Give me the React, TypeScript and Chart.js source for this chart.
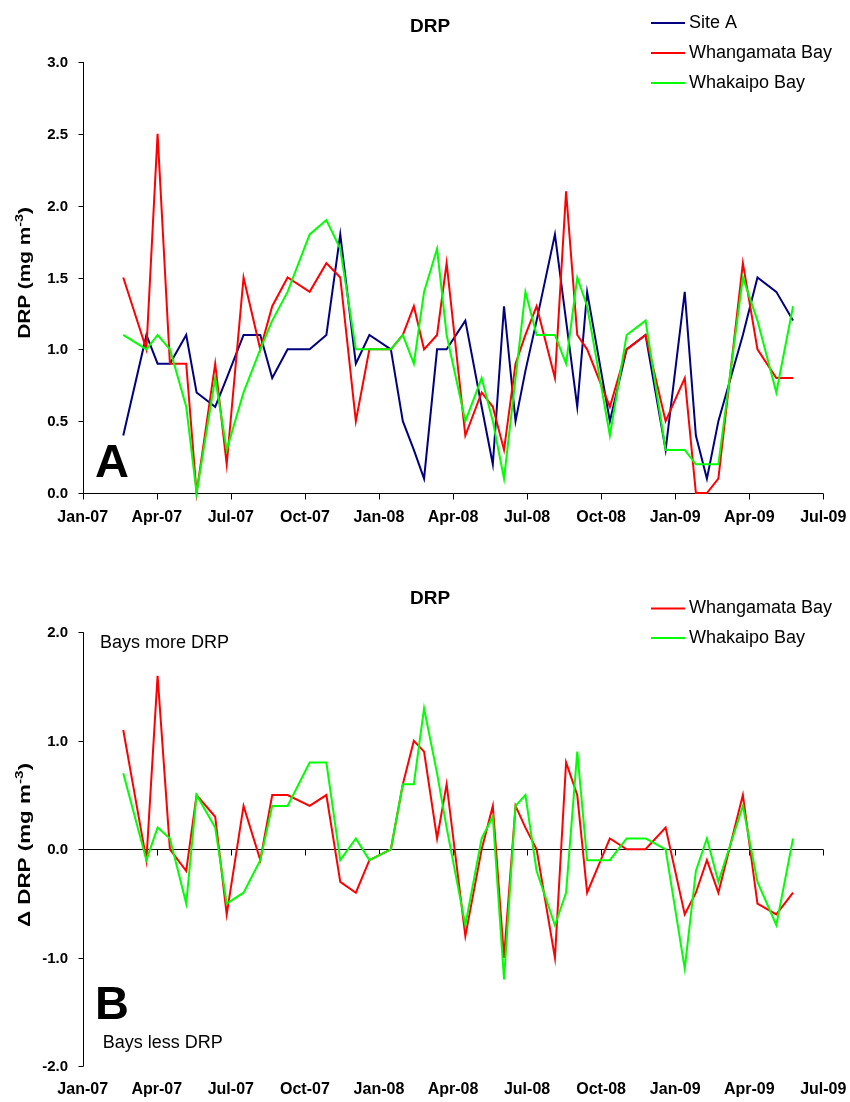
import React, { useEffect, useRef } from "react";
import { Chart, registerables } from "chart.js";

Chart.register(...registerables);

// ---------- data ----------
const sampleDates = [
  "2007-02-19", "2007-03-19", "2007-04-02", "2007-04-17", "2007-05-07", "2007-05-20",
  "2007-06-12", "2007-06-26", "2007-07-17", "2007-08-07", "2007-08-22", "2007-09-10",
  "2007-10-07", "2007-10-28", "2007-11-14", "2007-12-03", "2007-12-20", "2008-01-16",
  "2008-01-31", "2008-02-13", "2008-02-25", "2008-03-12", "2008-03-24", "2008-04-16",
  "2008-05-06", "2008-05-20", "2008-06-03", "2008-06-17", "2008-06-29", "2008-07-13",
  "2008-08-05", "2008-08-19", "2008-09-02", "2008-09-14", "2008-10-12", "2008-11-02",
  "2008-11-25", "2008-12-20", "2009-01-13", "2009-01-27", "2009-02-09", "2009-02-22",
  "2009-03-24", "2009-04-11", "2009-05-04", "2009-05-25",
];

const siteA = [
  0.4, 1.1, 0.9, 0.9, 1.1, 0.7, 0.6, 0.8, 1.1, 1.1, 0.8, 1.0, 1.0, 1.1, 1.8, 0.9,
  1.1, 1.0, 0.5, 0.3, 0.1, 1.0, 1.0, 1.2, 0.6, 0.2, 1.3, 0.5, 0.85, 1.2, 1.8, 1.2,
  0.6, 1.4, 0.5, 1.0, 1.1, 0.3, 1.4, 0.4, 0.1, 0.5, 1.1, 1.5, 1.4, 1.2,
];

const whangamata = [
  1.5, 1.0, 2.5, 0.9, 0.9, 0.0, 0.9, 0.2, 1.5, 1.0, 1.3, 1.5, 1.4, 1.6, 1.5, 0.5,
  1.0, 1.0, 1.1, 1.3, 1.0, 1.1, 1.6, 0.4, 0.7, 0.6, 0.3, 0.9, 1.1, 1.3, 0.8, 2.1,
  1.1, 1.0, 0.6, 1.0, 1.1, 0.5, 0.8, 0.0, 0.0, 0.1, 1.6, 1.0, 0.8, 0.8,
];

const whakaipo = [
  1.1, 1.0, 1.1, 1.0, 0.6, 0.0, 0.8, 0.3, 0.7, 1.0, 1.2, 1.4, 1.8, 1.9, 1.7, 1.0,
  1.0, 1.0, 1.1, 0.9, 1.4, 1.7, 1.1, 0.5, 0.8, 0.5, 0.1, 0.8, 1.4, 1.1, 1.1, 0.9,
  1.5, 1.3, 0.4, 1.1, 1.2, 0.3, 0.3, 0.2, 0.2, 0.2, 1.5, 1.2, 0.7, 1.3,
];

const diffWhangamata = [
  1.1, -0.1, 1.6, 0.0, -0.2, 0.5, 0.3, -0.6, 0.4, -0.1, 0.5, 0.5, 0.4, 0.5, -0.3, -0.4,
  -0.1, 0.0, 0.6, 1.0, 0.9, 0.1, 0.6, -0.8, 0.0, 0.4, -1.0, 0.4, 0.2, 0.0, -1.0, 0.8,
  0.5, -0.4, 0.1, 0.0, 0.0, 0.2, -0.6, -0.4, -0.1, -0.4, 0.5, -0.5, -0.6, -0.4,
];

const diffWhakaipo = [
  0.7, -0.1, 0.2, 0.1, -0.5, 0.5, 0.2, -0.5, -0.4, -0.1, 0.4, 0.4, 0.8, 0.8, -0.1, 0.1,
  -0.1, 0.0, 0.6, 0.6, 1.3, 0.7, 0.2, -0.7, 0.1, 0.3, -1.2, 0.4, 0.5, -0.2, -0.7, -0.4,
  0.9, -0.1, -0.1, 0.1, 0.1, 0.0, -1.1, -0.2, 0.1, -0.3, 0.4, -0.3, -0.7, 0.1,
];

const xTickLabels = [
  "Jan-07", "Apr-07", "Jul-07", "Oct-07", "Jan-08", "Apr-08",
  "Jul-08", "Oct-08", "Jan-09", "Apr-09", "Jul-09",
];
const xTickMonths = [0, 3, 6, 9, 12, 15, 18, 21, 24, 27, 30];
const topYTicks = [0, 0.5, 1.0, 1.5, 2.0, 2.5, 3.0];
const bottomYTicks = [-2, -1, 0, 1, 2];

const COLOR_SITE_A = "#000080";
const COLOR_WHANGAMATA = "#FF0000";
const COLOR_WHAKAIPO = "#00FF00";

const FONT = '"Liberation Sans", Arial, sans-serif';

// months since Jan 2007 (fractional)
function toMonths(d: string): number {
  const [y, m, day] = d.split("-").map(Number);
  const dim = new Date(y, m, 0).getDate();
  return (y - 2007) * 12 + (m - 1) + (day - 1) / dim;
}

function series(values: number[]) {
  return sampleDates.map((d, i) => ({ x: toMonths(d), y: values[i] }));
}

type TextOpts = {
  size: number;
  bold?: boolean;
  align?: CanvasTextAlign;
  baseline?: CanvasTextBaseline;
  sx?: number;
};

function drawText(ctx: CanvasRenderingContext2D, text: string, x: number, y: number, o: TextOpts) {
  ctx.save();
  ctx.translate(x, y);
  ctx.scale(o.sx ?? 1, 1);
  ctx.font = `${o.bold ? "bold " : ""}${o.size}px ${FONT}`;
  ctx.textAlign = o.align ?? "left";
  ctx.textBaseline = o.baseline ?? "middle";
  ctx.fillStyle = "#000";
  ctx.fillText(text, 0, 0);
  ctx.restore();
}

// rotated axis title with superscript "-3"; stretch = scale along the text direction
function drawYTitle(
  ctx: CanvasRenderingContext2D, cx: number, cy: number, prefix: string, size: number, stretch: number,
) {
  ctx.save();
  ctx.translate(cx, cy);
  ctx.rotate(-Math.PI / 2);
  ctx.scale(stretch, 1);
  const fMain = `bold ${size}px ${FONT}`;
  const fSup = `bold ${Math.round(size * 0.68)}px ${FONT}`;
  ctx.font = fMain;
  const w1 = ctx.measureText(prefix).width;
  const w3 = ctx.measureText(")").width;
  ctx.font = fSup;
  const w2 = ctx.measureText("-3").width;
  let x = -(w1 + w2 + w3) / 2;
  const base = size * 0.36;
  ctx.fillStyle = "#000";
  ctx.textAlign = "left";
  ctx.textBaseline = "alphabetic";
  ctx.font = fMain;
  ctx.fillText(prefix, x, base);
  x += w1;
  ctx.font = fSup;
  ctx.fillText("-3", x, base - size * 0.42);
  x += w2;
  ctx.font = fMain;
  ctx.fillText(")", x, base);
  ctx.restore();
}

function line(ctx: CanvasRenderingContext2D, x1: number, y1: number, x2: number, y2: number, color = "#000", w = 1) {
  ctx.save();
  ctx.strokeStyle = color;
  ctx.lineWidth = w;
  ctx.beginPath();
  ctx.moveTo(x1, y1);
  ctx.lineTo(x2, y2);
  ctx.stroke();
  ctx.restore();
}

const Y_TICK_FONT = 15;
const X_TICK_FONT = 16;
const LEGEND_FONT = 18;

function lineDataset(label: string, values: number[], color: string, order: number) {
  return {
    label,
    data: series(values),
    borderColor: color,
    backgroundColor: color,
    borderWidth: 2,
    pointRadius: 0,
    tension: 0,
    fill: false,
    clip: false as const,
    order,
  };
}

// ---------- top panel ----------
function topConfig(): any {
  const axesPlugin = {
    id: "topAxes",
    beforeDatasetsDraw(chart: any) {
      const ctx = chart.ctx as CanvasRenderingContext2D;
      const xs = chart.scales.x;
      const ys = chart.scales.y;
      const ax = Math.round(xs.getPixelForValue(0)) + 0.5;
      const ay = Math.round(ys.getPixelForValue(0)) + 0.5;
      line(ctx, ax, ys.getPixelForValue(3), ax, ay);
      topYTicks.forEach((v) => {
        const py = Math.round(ys.getPixelForValue(v)) + 0.5;
        line(ctx, ax - 5, py, ax, py);
      });
      line(ctx, ax, ay, xs.getPixelForValue(30), ay);
      xTickMonths.forEach((m) => {
        const px = Math.round(xs.getPixelForValue(m)) + 0.5;
        line(ctx, px, ay, px, ay + 6);
      });
    },
    afterDraw(chart: any) {
      const ctx = chart.ctx as CanvasRenderingContext2D;
      const xs = chart.scales.x;
      const ys = chart.scales.y;
      topYTicks.forEach((v) => {
        drawText(ctx, v.toFixed(1), 68, ys.getPixelForValue(v) + 1, { size: Y_TICK_FONT, bold: true, align: "right" });
      });
      xTickMonths.forEach((m, i) => {
        drawText(ctx, xTickLabels[i], xs.getPixelForValue(m), 518, { size: X_TICK_FONT, bold: true, align: "center" });
      });
      drawText(ctx, "DRP", 430, 27, { size: 19, bold: true, align: "center" });
      const legend: [string, string, number][] = [
        ["Site A", COLOR_SITE_A, 23],
        ["Whangamata Bay", COLOR_WHANGAMATA, 53],
        ["Whakaipo Bay", COLOR_WHAKAIPO, 83],
      ];
      legend.forEach(([t, c, y]) => {
        line(ctx, 651, y, 685, y, c, 2);
        drawText(ctx, t, 689, y, { size: LEGEND_FONT });
      });
      drawText(ctx, "A", 95, 477, { size: 47, bold: true, baseline: "alphabetic" });
      drawYTitle(ctx, 24, 273, "DRP (mg m", 16, 1.3);
    },
  };

  return {
    type: "line",
    data: {
      datasets: [
        lineDataset("Site A", siteA, COLOR_SITE_A, 3),
        lineDataset("Whangamata Bay", whangamata, COLOR_WHANGAMATA, 2),
        lineDataset("Whakaipo Bay", whakaipo, COLOR_WHAKAIPO, 1),
      ],
    },
    options: {
      animation: false,
      responsive: false,
      maintainAspectRatio: false,
      devicePixelRatio: 1,
      layout: { padding: { left: 82.7, right: 26.7, top: 62, bottom: 58 } },
      scales: {
        x: { type: "linear", min: 0, max: 30, display: false },
        y: { type: "linear", min: 0, max: 3, display: false },
      },
      plugins: { legend: { display: false }, tooltip: { enabled: false }, title: { display: false } },
      events: [],
    },
    plugins: [axesPlugin],
  };
}

// ---------- bottom panel (canvas top at page y = 551) ----------
function bottomConfig(): any {
  const axesPlugin = {
    id: "bottomAxes",
    beforeDatasetsDraw(chart: any) {
      const ctx = chart.ctx as CanvasRenderingContext2D;
      const xs = chart.scales.x;
      const ys = chart.scales.y;
      const ax = Math.round(xs.getPixelForValue(0)) + 0.5;
      line(ctx, ax, ys.getPixelForValue(2), ax, ys.getPixelForValue(-2));
      bottomYTicks.forEach((v) => {
        const py = Math.round(ys.getPixelForValue(v)) + 0.5;
        line(ctx, ax - 5, py, ax, py);
      });
      const zy = Math.round(ys.getPixelForValue(0)) + 0.5;
      line(ctx, ax, zy, xs.getPixelForValue(30), zy);
      xTickMonths.forEach((m) => {
        const px = Math.round(xs.getPixelForValue(m)) + 0.5;
        line(ctx, px, zy, px, zy + 6);
      });
    },
    afterDraw(chart: any) {
      const ctx = chart.ctx as CanvasRenderingContext2D;
      const xs = chart.scales.x;
      const ys = chart.scales.y;
      bottomYTicks.forEach((v) => {
        drawText(ctx, v.toFixed(1), 68, ys.getPixelForValue(v) + 1, { size: Y_TICK_FONT, bold: true, align: "right" });
      });
      xTickMonths.forEach((m, i) => {
        drawText(ctx, xTickLabels[i], xs.getPixelForValue(m), 539, { size: X_TICK_FONT, bold: true, align: "center" });
      });
      drawText(ctx, "DRP", 430, 47.5, { size: 19, bold: true, align: "center" });
      const legend: [string, string, number][] = [
        ["Whangamata Bay", COLOR_WHANGAMATA, 57.5],
        ["Whakaipo Bay", COLOR_WHAKAIPO, 87],
      ];
      legend.forEach(([t, c, y]) => {
        line(ctx, 651, y, 685, y, c, 2);
        drawText(ctx, t, 689, y, { size: LEGEND_FONT });
      });
      drawText(ctx, "Bays more DRP", 100, 92.3, { size: LEGEND_FONT });
      drawText(ctx, "Bays less DRP", 102.7, 491.7, { size: LEGEND_FONT });
      drawText(ctx, "B", 95, 468, { size: 47, bold: true, baseline: "alphabetic" });
      drawYTitle(ctx, 24, 294, "\u0394 DRP (mg m", 16, 1.4);
    },
  };

  return {
    type: "line",
    data: {
      datasets: [
        lineDataset("Whangamata Bay", diffWhangamata, COLOR_WHANGAMATA, 2),
        lineDataset("Whakaipo Bay", diffWhakaipo, COLOR_WHAKAIPO, 1),
      ],
    },
    options: {
      animation: false,
      responsive: false,
      maintainAspectRatio: false,
      devicePixelRatio: 1,
      layout: { padding: { left: 82.7, right: 26.7, top: 81.3, bottom: 35.7 } },
      scales: {
        x: { type: "linear", min: 0, max: 30, display: false },
        y: { type: "linear", min: -2, max: 2, display: false },
      },
      plugins: { legend: { display: false }, tooltip: { enabled: false }, title: { display: false } },
      events: [],
    },
    plugins: [axesPlugin],
  };
}

export default function App() {
  const topRef = useRef<HTMLCanvasElement>(null);
  const botRef = useRef<HTMLCanvasElement>(null);

  useEffect(() => {
    const c1 = new Chart(topRef.current as HTMLCanvasElement, topConfig());
    const c2 = new Chart(botRef.current as HTMLCanvasElement, bottomConfig());
    return () => {
      c1.destroy();
      c2.destroy();
    };
  }, []);

  return (
    <div style={{ position: "absolute", left: 0, top: 0, width: 850, height: 1102, background: "#fff" }}>
      <canvas
        ref={topRef}
        width={850}
        height={551}
        style={{ position: "absolute", left: 0, top: 0, width: 850, height: 551 }}
      />
      <canvas
        ref={botRef}
        width={850}
        height={551}
        style={{ position: "absolute", left: 0, top: 551, width: 850, height: 551 }}
      />
    </div>
  );
}
